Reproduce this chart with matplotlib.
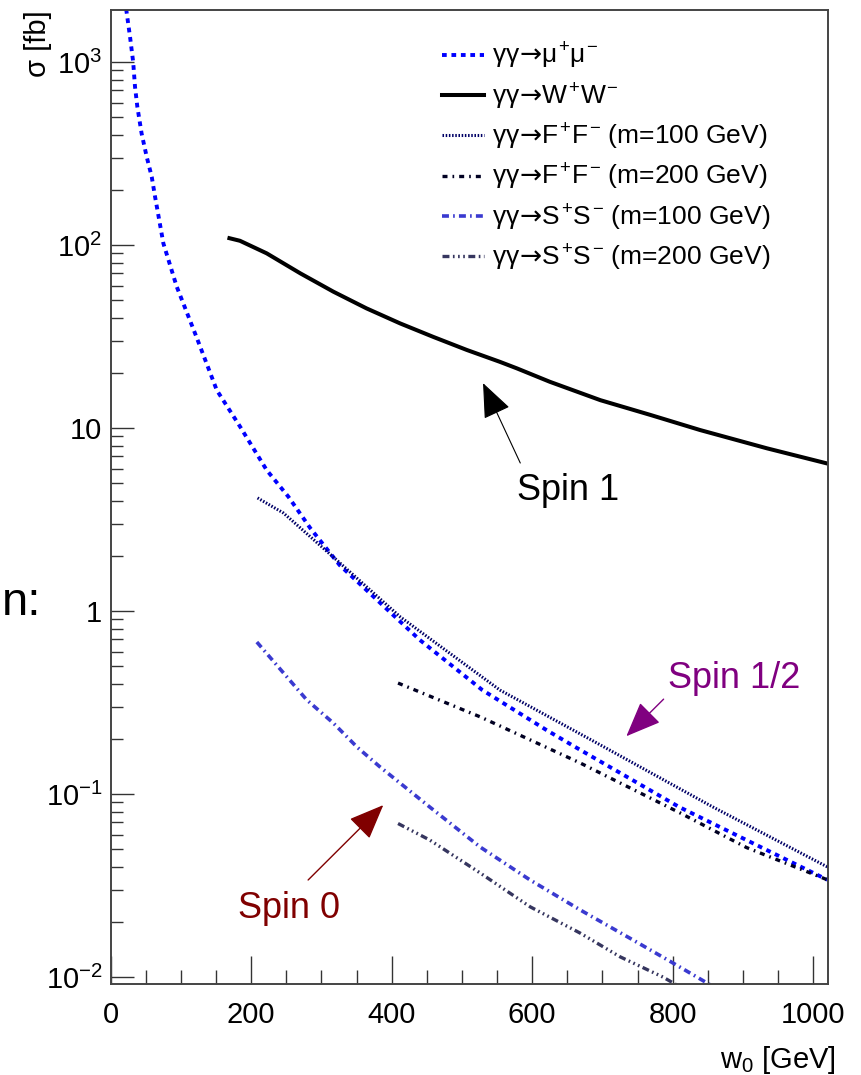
import numpy as np
import matplotlib
matplotlib.use('Agg')
from matplotlib import pyplot as plt
from matplotlib.ticker import MultipleLocator, FixedLocator, FixedFormatter, LogLocator, NullFormatter

plt.rcParams['font.family'] = ['Liberation Sans', 'DejaVu Sans']
plt.rcParams['mathtext.fontset'] = 'custom'
plt.rcParams['mathtext.rm'] = 'Liberation Sans'
plt.rcParams['mathtext.it'] = 'Liberation Sans'
plt.rcParams['mathtext.bf'] = 'Liberation Sans:bold'
plt.rcParams['mathtext.sf'] = 'DejaVu Sans'
plt.rcParams['lines.scale_dashes'] = False

# cross sections [fb] vs w0 [GeV]
w_mumu = [22, 27.5, 32, 34.6, 37.9, 44, 51.2, 58.4, 63, 75, 94, 122, 151, 184, 222, 253, 284, 326, 369, 440, 529, 620, 662, 809, 1020]
s_mumu = [1950, 1375, 1000, 733, 570, 407, 304, 236, 185, 102, 59.2, 31.5, 16.1, 10.2, 5.89, 4.21, 2.84, 1.78, 1.25, 0.695, 0.37, 0.224, 0.18, 0.085, 0.034]

w_ww = [169, 184, 222, 270, 317, 364, 412, 459, 507, 554, 578, 625, 697, 768, 839, 934, 1020]
s_ww = [109, 105.5, 90.1, 70.0, 55.6, 45.1, 37.3, 31.5, 26.7, 23.0, 21.2, 17.9, 14.2, 11.8, 9.75, 7.75, 6.4]

w_ff100 = [209, 246, 317, 412, 554, 692, 857, 1020]
s_ff100 = [4.15, 3.43, 1.97, 0.93, 0.37, 0.19, 0.085, 0.040]

w_ff200 = [409, 526, 668, 810, 905, 1020]
s_ff200 = [0.404, 0.264, 0.148, 0.079, 0.051, 0.034]

w_ss100 = [208, 279, 317, 351, 383, 454, 526, 597, 668, 739, 796, 859]
s_ss100 = [0.677, 0.327, 0.244, 0.18, 0.141, 0.085, 0.0513, 0.0339, 0.0233, 0.0163, 0.0122, 0.0088]

w_ss200 = [409, 454, 526, 597, 668, 725, 786, 811]
s_ss200 = [0.069, 0.0561, 0.037, 0.0242, 0.0174, 0.0129, 0.0100, 0.0088]

arr = r'$\!\mathsf{\rightarrow}\!$'
labels = ['γγ' + arr + r'$\mu^{+}\mu^{-}$',
          'γγ' + arr + r'$W^{+}W^{-}$',
          'γγ' + arr + r'$F^{+}F^{-}$ (m=100 GeV)',
          'γγ' + arr + r'$F^{+}F^{-}$ (m=200 GeV)',
          'γγ' + arr + r'$S^{+}S^{-}$ (m=100 GeV)',
          'γγ' + arr + r'$S^{+}S^{-}$ (m=200 GeV)']

fig = plt.figure(figsize=(8.61, 10.75), dpi=100)
ax = fig.add_axes([110.7 / 861, 1 - 984 / 1075, (828 - 110.7) / 861, (984 - 10) / 1075])

ax.plot(w_mumu, s_mumu, color='#0000ff', lw=2.8, dashes=(3.4, 3.4), label=labels[0])
ax.plot(w_ww, s_ww, color='black', lw=2.9, label=labels[1])
ax.plot(w_ff100, s_ff100, color='#000066', lw=2.2, dashes=(1.1, 1.2), label=labels[2])
ax.plot(w_ff200, s_ff200, color='#000022', lw=2.4, dashes=(3.6, 3.6, 1.2, 3.6), label=labels[3])
ax.plot(w_ss100, s_ss100, color='#3a3ad0', lw=2.6, dashes=(5.0, 3.0, 1.2, 3.0), label=labels[4])
ax.plot(w_ss200, s_ss200, color='#36365f', lw=2.4, dashes=(5.0, 2.5, 1.2, 2.5, 1.2, 2.5, 1.2, 2.5), label=labels[5])

ax.set_yscale('log')
ax.set_xlim(0, 1021)
ax.set_ylim(0.00916, 1925)

ax.xaxis.set_major_locator(MultipleLocator(200))
ax.xaxis.set_minor_locator(MultipleLocator(50))
yt = [1e-2, 1e-1, 1, 10, 1e2, 1e3]
ax.yaxis.set_major_locator(FixedLocator(yt))
ax.yaxis.set_major_formatter(FixedFormatter(['$10^{-2}$', '$10^{-1}$', '1', '10', '$10^{2}$', '$10^{3}$']))
ax.yaxis.set_minor_locator(LogLocator(base=10, subs=np.arange(2, 10)))
ax.yaxis.set_minor_formatter(NullFormatter())

ax.tick_params(axis='x', which='major', direction='in', length=20, width=1.0, color='#333333',
               labelsize=21, pad=12, top=False)
ax.tick_params(axis='x', which='minor', direction='in', length=10, width=1.0, color='#333333', top=False)
ax.tick_params(axis='y', which='major', direction='in', length=16.5, width=1.0, color='#333333',
               labelsize=21, pad=6, right=False)
ax.tick_params(axis='y', which='minor', direction='in', length=8.6, width=1.0, color='#333333', right=False)
for s in ax.spines.values():
    s.set_color('#444444')
    s.set_linewidth(1.4)

fig.text(836 / 861, 1 - 1060 / 1075, r'w$_{0}$ [GeV]', fontsize=21, ha='right', va='center')
fig.text(38 / 861, 1 - 10 / 1075, 'σ [fb]', fontsize=21, rotation=90, ha='center', va='top')
fig.text(2 / 861, 1 - 603 / 1075, 'n:', fontsize=34, ha='left', va='center')

ax.legend(loc='upper left', bbox_to_anchor=(442 / 861, 1 - 41 / 1075), bbox_transform=fig.transFigure,
          frameon=False, fontsize=19, handlelength=1.6, handletextpad=0.28, labelspacing=0.38,
          borderpad=0, borderaxespad=0)

# spin annotations
arrow = '-|>,head_length=2.2,head_width=0.9'
ax.annotate('', xy=(530, 17.6), xytext=(583, 6.44),
            arrowprops=dict(arrowstyle=arrow, color='black', lw=0.8,
                            mutation_scale=10, shrinkA=0, shrinkB=0))
ax.text(578, 4.04, 'Spin 1', fontsize=26, color='black', ha='left', va='baseline')

ax.annotate('', xy=(734, 0.207), xytext=(787, 0.33),
            arrowprops=dict(arrowstyle=arrow, color='#800080', lw=1.0,
                            mutation_scale=10, shrinkA=0, shrinkB=0))
ax.text(793, 0.38, 'Spin 1/2', fontsize=26, color='#800080', ha='left', va='baseline')

ax.annotate('', xy=(388, 0.087), xytext=(281, 0.0339),
            arrowprops=dict(arrowstyle=arrow, color='#800000', lw=1.0,
                            mutation_scale=10, shrinkA=0, shrinkB=0))
ax.text(181, 0.021, 'Spin 0', fontsize=26, color='#800000', ha='left', va='baseline')

fig.savefig('out.png', dpi=100)
